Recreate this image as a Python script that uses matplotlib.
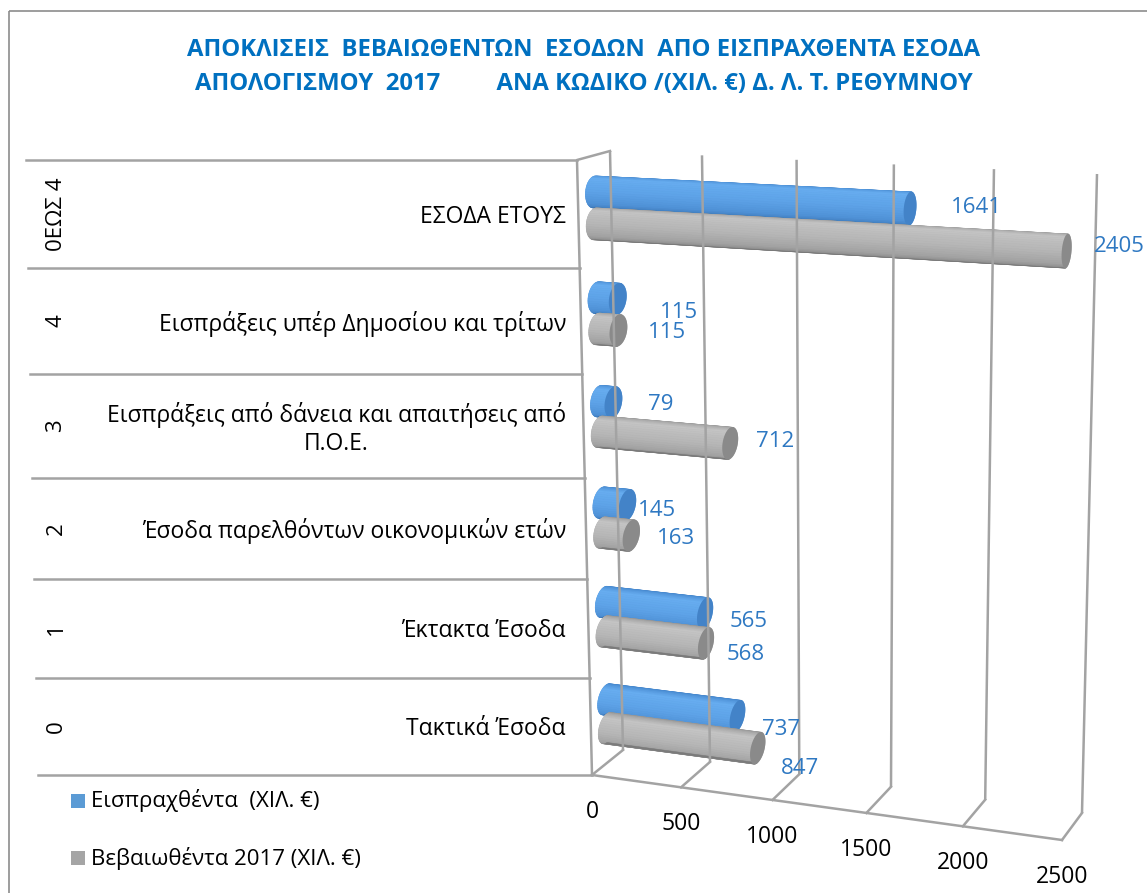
import numpy as np
import matplotlib.pyplot as plt
from matplotlib.patches import Polygon, Rectangle
from matplotlib.colors import LinearSegmentedColormap

codes = ["0", "1", "2", "3", "4", "0ΕΩΣ 4"]
categories = ["Τακτικά Έσοδα",
              "Έκτακτα Έσοδα",
              "Έσοδα παρελθόντων οικονομικών ετών",
              "Εισπράξεις από δάνεια και απαιτήσεις από\nΠ.Ο.Ε.",
              "Εισπράξεις υπέρ Δημοσίου και τρίτων",
              "ΕΣΟΔΑ ΕΤΟΥΣ"]
collected = [737, 565, 145, 79, 115, 1641]
assessed = [847, 568, 163, 712, 115, 2405]
series_names = ["Εισπραχθέντα  (ΧΙΛ. €)", "Βεβαιωθέντα 2017 (ΧΙΛ. €)"]
value_ticks = [0, 500, 1000, 1500, 2000, 2500]
title = ("ΑΠΟΚΛΙΣΕΙΣ  ΒΕΒΑΙΩΘΕΝΤΩΝ  ΕΣΟΔΩΝ  ΑΠΟ ΕΙΣΠΡΑΧΘΕΝΤΑ ΕΣΟΔΑ\n"
         "ΑΠΟΛΟΓΙΣΜΟΥ  2017         ΑΝΑ ΚΩΔΙΚΟ /(ΧΙΛ. €) Δ. Λ. Τ. ΡΕΘΥΜΝΟΥ")

# label nudges (px) for the value labels, collected / assessed
nudge_c = [(44, 13), (44, 8), (30, 5), (47, 2), (61, 13), (66, -1)]
nudge_a = [(42, 20), (40, 11), (45, 3), (45, -2), (49, 2), (53, -5)]

plt.rcParams['font.family'] = ['Open Sans', 'DejaVu Sans']

VMAX = 2500.0
NCAT = len(categories)


def homography(src, dst):
    A = []
    b = []
    for (x, y), (X, Y) in zip(src, dst):
        A.append([x, y, 1, 0, 0, 0, -X * x, -X * y])
        A.append([0, 0, 0, x, y, 1, -Y * x, -Y * y])
        b += [X, Y]
    h = np.linalg.solve(np.array(A, float), np.array(b, float))
    return np.append(h, 1).reshape(3, 3)


unit = [(0, 0), (1, 0), (0, 1), (1, 1)]
# floor/wall corners of the 3d box in figure pixels
H_back = homography(unit, [(623, 750), (1082, 813), (610, 151), (1097, 174)])
H_front = homography(unit, [(592, 775), (1062, 840), (577, 160), (1080, 184)])


def apply(H, u, h):
    p = H @ np.array([u, h, 1.0])
    return p[:2] / p[2]


def P(value, h, d):
    # value along the bars, h = height (0 floor .. 1 top), d = depth (0 front .. 1 back)
    u = value / VMAX
    return (1 - d) * apply(H_front, u, h) + d * apply(H_back, u, h)


def hull(pts):
    pts = sorted(set((round(x, 3), round(y, 3)) for x, y in pts))

    def cross(o, a, b):
        return (a[0] - o[0]) * (b[1] - o[1]) - (a[1] - o[1]) * (b[0] - o[0])
    lower, upper = [], []
    for p in pts:
        while len(lower) >= 2 and cross(lower[-2], lower[-1], p) <= 0:
            lower.pop()
        lower.append(p)
    for p in reversed(pts):
        while len(upper) >= 2 and cross(upper[-2], upper[-1], p) <= 0:
            upper.pop()
        upper.append(p)
    return np.array(lower[:-1] + upper[:-1])


fig = plt.figure(figsize=(11.47, 8.93), dpi=100)
ax = fig.add_axes([0, 0, 1, 1])
ax.set_xlim(0, 1147)
ax.set_ylim(893, 0)
ax.axis('off')

GRID = '#A3A3A3'
LW = 1.8

# outer frame
ax.add_patch(Rectangle((9, 11), 1300, 1000, fill=False, ec='#8C8C8C', lw=1.2))

# title
ax.text(584, 67, title, ha='center', va='center', color='#0070C0',
        fontsize=17.2, fontweight='bold', linespacing=1.55)

# back wall gridlines and floor
for v in value_ticks:
    b0, b1 = P(v, 0, 1), P(v, 1, 1)
    ax.plot([b0[0], b1[0]], [b0[1], b1[1]], color=GRID, lw=LW, solid_capstyle='butt')
    f0 = P(v, 0, 0)
    ax.plot([f0[0], b0[0]], [f0[1], b0[1]], color=GRID, lw=LW)
    ax.text(f0[0], f0[1] + 37, f"{v}", ha='center', va='center', fontsize=16.5, color='black')
fa, fb = P(0, 0, 0), P(VMAX, 0, 0)
ax.plot([fa[0], fb[0]], [fa[1], fb[1]], color=GRID, lw=LW)
# side wall
s0, s1, s2 = P(0, 0, 0), P(0, 1, 0), P(0, 1, 1)
ax.plot([s0[0], s1[0], s2[0]], [s0[1], s1[1], s2[1]], color=GRID, lw=LW)

# category table on the left
for i in range(NCAT + 1):
    p = P(0, i / NCAT, 0)
    x_left = 38 - 12 * i / NCAT
    ax.plot([x_left, p[0]], [p[1], p[1]], color=GRID, lw=LW)
for i in range(NCAT):
    ya = P(0, i / NCAT, 0)[1]
    yb = P(0, (i + 1) / NCAT, 0)[1]
    yc = (ya + yb) / 2
    ax.text(566, yc + 3, categories[i], ha='right', va='center', multialignment='center',
            fontsize=16.5, color='black', linespacing=1.2)
    ax.text(56, yc, codes[i], ha='center', va='center', rotation=90,
            fontsize=16, color='black')

# cylinders
RH = 0.15 / NCAT
RD = 0.28
DC = 0.5
blue_shades = ['#3d7fc6', '#67adf0', '#5ea3e8', '#4f91d6', '#3870ae']
grey_shades = ['#8f8f8f', '#c4c4c4', '#b7b7b7', '#a2a2a2', '#7a7a7a']


def cylinder(value, hc, shades, base, cap):
    a = np.linspace(0, 2 * np.pi, 72)
    ring0 = [P(0, hc + RH * np.cos(t), DC + RD * np.sin(t)) for t in a]
    ring1 = [P(value, hc + RH * np.cos(t), DC + RD * np.sin(t)) for t in a]
    outline = Polygon(hull(ring0 + ring1), closed=True, fc=base, ec='none')
    ax.add_patch(outline)
    cmap = LinearSegmentedColormap.from_list('shade', shades)
    ts = np.linspace(-0.5, np.pi, 26)
    for k in range(len(ts) - 1):
        t0, t1 = ts[k], ts[k + 1]
        quad = [P(0, hc + RH * np.cos(t0), DC - RD * np.sin(t0)),
                P(value, hc + RH * np.cos(t0), DC - RD * np.sin(t0)),
                P(value, hc + RH * np.cos(t1), DC - RD * np.sin(t1)),
                P(0, hc + RH * np.cos(t1), DC - RD * np.sin(t1))]
        c = cmap(k / (len(ts) - 2))
        strip = Polygon(quad, closed=True, fc=c, ec=c, lw=0.4)
        ax.add_patch(strip)
        strip.set_clip_path(outline)
    ax.add_patch(Polygon(ring1, closed=True, fc=cap, ec='none'))
    return P(value, hc, DC)


OFF_C = 0.16
OFF_A = -0.14
for i in range(NCAT):
    hc_c = (i + 0.5 + OFF_C) / NCAT
    hc_a = (i + 0.5 + OFF_A) / NCAT
    end_c = cylinder(collected[i], hc_c, blue_shades, '#5596d8', '#4383c8')
    end_a = cylinder(assessed[i], hc_a, grey_shades, '#a8a8a8', '#8a8a8a')
    ax.text(end_c[0] + nudge_c[i][0], end_c[1] + nudge_c[i][1], f"{collected[i]}",
            ha='center', va='center', fontsize=16, color='#2E78C2')
    ax.text(end_a[0] + nudge_a[i][0], end_a[1] + nudge_a[i][1], f"{assessed[i]}",
            ha='center', va='center', fontsize=16, color='#2E78C2')

# legend
for k, (name, col) in enumerate(zip(series_names, ['#5B9BD5', '#A5A5A5'])):
    y = 801 + 57 * k
    ax.add_patch(Rectangle((71, y - 7), 14, 14, fc=col, ec='none'))
    ax.text(91, y, name, ha='left', va='center', fontsize=16, color='black')

fig.savefig('out.png', dpi=100)
